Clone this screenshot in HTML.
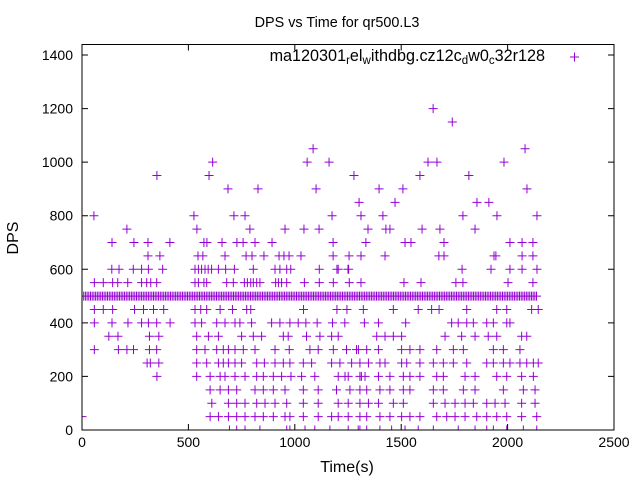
<!DOCTYPE html>
<html><head><meta charset="utf-8"><style>
html,body{margin:0;padding:0;background:#fff}
svg{display:block;font-family:"Liberation Sans",sans-serif}
</style></head><body>
<svg id="chart" width="640" height="480" viewBox="0 0 640 480" xmlns="http://www.w3.org/2000/svg">
<rect width="640" height="480" fill="#fff"/>
<text x="337" y="27" text-anchor="middle" font-size="14.4">DPS vs Time for qr500.L3</text>
<text x="347" y="472" text-anchor="middle" font-size="16">Time(s)</text>
<text transform="translate(18,238) rotate(-90)" text-anchor="middle" font-size="16">DPS</text>
<g id="axes"></g>
<defs><clipPath id="pc"><rect x="82" y="44" width="532" height="386"/></clipPath></defs>
<g id="marks" clip-path="url(#pc)"></g>
<g>
<text x="545" y="61" text-anchor="end" font-size="16.2">ma120301<tspan font-size="11.5" dy="3">r</tspan><tspan dy="-3">el</tspan><tspan font-size="11.5" dy="3">w</tspan><tspan dy="-3">ithdbg.cz12c</tspan><tspan font-size="11.5" dy="3">d</tspan><tspan dy="-3">w0</tspan><tspan font-size="11.5" dy="3">c</tspan><tspan dy="-3">32r128</tspan></text>
<path d="M570 57h9M574.5 52.5v9" stroke="#9400d3" stroke-width="1"/>
</g>
<rect x="82" y="44.5" width="532" height="385.5" fill="none" stroke="#000" stroke-width="1"/>
</svg>
<script>
const xTicks=[0,500,1000,1500,2000,2500];
const yTicks=[0,200,400,600,800,1000,1200,1400];
const levels=[1200,1150,1050,1000,950,900,850,800,750,700,650,600,550,500,450,400,350,300,250,200,150,100,50,0];
const t1200=[1650];
const t1150=[1740];
const t1050=[1086,2082];
const t1000=[614,1058,1161,1626,1668,1983];
const t950=[352,597,1278,1588,1818];
const t900=[686,827,1100,1396,1508,2091];
const t850=[1302,1471,1856,1912];
const t800=[56,526,714,766,1175,1311,1414,1790,1950,2138];
const t750=[211,540,789,954,1043,1114,1344,1428,1447,1598,1682,1847];
const t700=[141,244,310,413,573,587,658,728,757,813,893,1180,1334,1518,1546,1701,2011,2068,2119];
const t650=[310,366,545,568,672,771,799,855,926,949,973,1029,1180,1255,1311,1424,1677,1701,1936,1945,2068,2119];
const t600=[140,174,241,280,312,379,531,547,562,578,593,609,641,675,716,805,907,930,962,981,1115,1204,1253,1198,1250,1786,1922,2011,2068,2138];
const t550=[58,100,144,168,215,280,304,323,351,531,547,573,586,680,711,763,777,793,805,821,836,910,923,938,962,1045,1115,1181,1256,1311,1513,1593,1757,1790,2002,2119];
const t500=[0,8,16,24,32,40,48,56,64,72,80,88,96,104,112,120,128,136,144,152,160,168,176,184,192,200,208,216,224,232,240,248,256,264,272,280,288,296,304,312,320,328,336,344,352,360,368,376,384,392,400,408,416,424,432,440,448,456,464,472,480,488,496,504,512,520,528,536,544,552,560,568,576,584,592,600,608,616,624,632,640,648,656,664,672,680,688,696,704,712,720,728,736,744,752,760,768,776,784,792,800,808,816,824,832,840,848,856,864,872,880,888,896,904,912,920,928,936,944,952,960,968,976,984,992,1000,1008,1016,1024,1032,1040,1048,1056,1064,1072,1080,1088,1096,1104,1112,1120,1128,1136,1144,1152,1160,1168,1176,1184,1192,1200,1208,1216,1224,1232,1240,1248,1256,1264,1272,1280,1288,1296,1304,1312,1320,1328,1336,1344,1352,1360,1368,1376,1384,1392,1400,1408,1416,1424,1432,1440,1448,1456,1464,1472,1480,1488,1496,1504,1512,1520,1528,1536,1544,1552,1560,1568,1576,1584,1592,1600,1608,1616,1624,1632,1640,1648,1656,1664,1672,1680,1688,1696,1704,1712,1720,1728,1736,1744,1752,1760,1768,1776,1784,1792,1800,1808,1816,1824,1832,1840,1848,1856,1864,1872,1880,1888,1896,1904,1912,1920,1928,1936,1944,1952,1960,1968,1976,1984,1992,2000,2008,2016,2024,2032,2040,2048,2056,2064,2072,2080,2088,2096,2104,2112,2120,2128,2136];
const t450=[58,100,144,247,289,336,384,531,558,586,649,707,774,793,1041,1198,1245,1322,1463,1580,1643,1678,1808,1949,1996,2113,2144];
const t400=[58,141,216,280,312,351,414,531,562,633,672,719,742,797,891,930,977,1016,1052,1105,1177,1235,1327,1393,1521,1737,1768,1808,1839,1902,1933,1996,2011];
const t350=[126,169,317,361,539,594,641,750,805,844,946,969,1055,1118,1173,1204,1385,1424,1463,1502,1706,1784,1847,1909,1949,2066,2090];
const t300=[58,171,211,242,317,351,539,578,633,664,688,719,758,813,907,974,1071,1110,1181,1243,1290,1299,1338,1393,1502,1541,1588,1667,1745,1792,1933,1980,2058];
const t250=[306,321,361,539,586,641,664,688,719,750,821,857,907,946,977,1040,1079,1173,1212,1267,1306,1346,1400,1424,1502,1526,1588,1651,1698,1745,1808,1902,1933,1980,2011,2058,2090,2121,2144];
const t200=[352,539,602,649,672,719,766,821,852,899,938,982,1032,1094,1204,1251,1313,1236,1306,1330,1393,1447,1510,1541,1588,1667,1698,1800,1847,1949,1996,2066,2121];
const t150=[602,649,688,727,813,852,899,954,1040,1110,1196,1259,1306,1338,1400,1447,1510,1541,1651,1698,1792,1847,1980,2074,2129];
const t100=[610,688,727,766,821,860,907,962,1040,1110,1204,1251,1306,1346,1393,1463,1510,1651,1706,1753,1800,1839,1902,1941,1988,2066,2129];
const t50=[0,602,641,688,727,766,813,852,899,954,977,1040,1110,1173,1204,1251,1306,1338,1400,1447,1502,1541,1588,1667,1714,1753,1800,1855,1902,1949,1996,2066,2137];
const t0=[693,727,766,836,962,977,1048,1094,1165,1251,1298,1306,1338,1400,1455,1518,1580,1651,1768,1847,1902,1933,1996,2074,2137];
const times=[t1200,t1150,t1050,t1000,t950,t900,t850,t800,t750,t700,t650,t600,t550,t500,t450,t400,t350,t300,t250,t200,t150,t100,t50,t0];

const X0=82,X1=614,Y0=430,Y1=55;
function sx(t){return X0+(t-0)/(2500-0)*(X1-X0);}
function sy(v){return Y0-(v-0)/(1400-0)*(Y0-Y1);}
const NS='http://www.w3.org/2000/svg';
const axes=document.getElementById('axes');
let tk='';
xTicks.forEach(t=>{const x=sx(t);tk+=`M${x} 430v-6M${x} 44.5v6`;
 const tx=document.createElementNS(NS,'text');
 
 
 tx.setAttribute('x',x);tx.setAttribute('y',447);tx.setAttribute('text-anchor','middle');tx.setAttribute('font-size','14');
 tx.textContent=t;axes.appendChild(tx);});
yTicks.forEach(v=>{const y=sy(v);tk+=`M82 ${y}h6M614 ${y}h-6`;
 const tx=document.createElementNS(NS,'text');
 
 
 tx.setAttribute('x',73);tx.setAttribute('y',y+5);tx.setAttribute('text-anchor','end');tx.setAttribute('font-size','14');
 tx.textContent=v;axes.appendChild(tx);});
const tp=document.createElementNS(NS,'path');


tp.setAttribute('d',tk);tp.setAttribute('stroke','#000');tp.setAttribute('fill','none');
axes.appendChild(tp);

const marks=document.getElementById('marks');
levels.forEach((lv,i)=>{
 let d='';
 times[i].forEach(t=>{const x=sx(t),y=sy(lv);d+=`M${x-4.5} ${y}h9M${x} ${y-4.5}v9`;});
 const p=document.createElementNS(NS,'path');
 
 
 p.setAttribute('d',d);p.setAttribute('stroke','#9400d3');p.setAttribute('fill','none');p.setAttribute('stroke-width','1');
 marks.appendChild(p);
});
</script>
</body></html>
